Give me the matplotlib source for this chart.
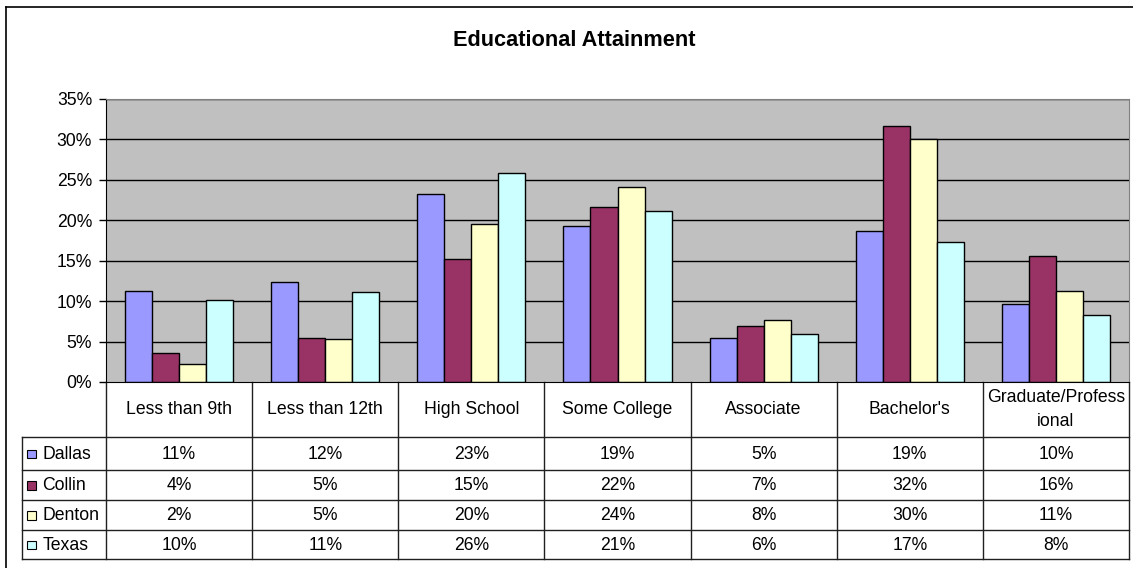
import matplotlib
matplotlib.use("Agg")
import matplotlib.pyplot as plt
from matplotlib.transforms import Affine2D, blended_transform_factory
from matplotlib.patches import Rectangle

# ---- data ----
categories = ["Less than 9th", "Less than 12th", "High School", "Some College",
              "Associate", "Bachelor's", "Graduate/Profess\nional"]
series_names = ["Dallas", "Collin", "Denton", "Texas"]
dallas = [11.2, 12.4, 23.3, 19.35, 5.43, 18.7, 9.6]
collin = [3.58, 5.43, 15.27, 21.6, 6.96, 31.66, 15.64]
denton = [2.18, 5.27, 19.6, 24.1, 7.66, 30.05, 11.2]
texas = [10.17, 11.07, 25.8, 21.2, 5.93, 17.3, 8.28]
series_values = [dallas, collin, denton, texas]
y_ticks = [0, 5, 10, 15, 20, 25, 30, 35]
title = "Educational Attainment"

# ---- style ----
colors = ["#9999FF", "#993366", "#FFFFCC", "#CCFFFF"]
FONT = "Liberation Sans"
FS = 12.7
W, H, DPI = 1133, 568, 100

plt.rcParams["font.family"] = [FONT, "DejaVu Sans"]

fig = plt.figure(figsize=(W / DPI, H / DPI), dpi=DPI)
fig.patch.set_facecolor("white")

# pixel transform (origin top-left)
px = Affine2D().scale(1 / W, -1 / H).translate(0, 1) + fig.transFigure

# plot area
L, R, T, B = 106, 1129, 99, 382
ax = fig.add_axes([L / W, 1 - B / H, (R - L) / W, (B - T) / H])
ax.set_facecolor("#C0C0C0")
ax.set_xlim(-0.5, len(categories) - 0.5)
ax.set_ylim(0, 35)
ax.set_yticks(y_ticks)
ax.set_yticklabels([f"{t}%" for t in y_ticks], fontsize=FS)
ax.tick_params(axis="y", length=5, width=1, pad=5, colors="black")
ax.set_xticks([])
for t in y_ticks[1:]:
    ax.axhline(t, color="black", lw=1, zorder=1)
ax.spines["top"].set_color("#808080")
ax.spines["right"].set_color("#808080")
ax.spines["left"].set_color("black")
ax.spines["bottom"].set_color("black")

bw = 0.185
for j, (vals, c) in enumerate(zip(series_values, colors)):
    xs = [i + (j - 1.5) * bw for i in range(len(categories))]
    ax.bar(xs, vals, width=bw, color=c, edgecolor="black", linewidth=1, zorder=2)

# table
tr = blended_transform_factory(ax.transData, px)
row_lines = [B, 437, 469.5, 500, 529.5, 559]
row_centers = [(row_lines[k] + row_lines[k + 1]) / 2 for k in range(1, 5)]
header_center = (B + 437) / 2
line_gap = 24
leg_left = 21.7
lc = "#202020"

# vertical lines at category boundaries
for k in range(len(categories) + 1):
    ax.plot([k - 0.5, k - 0.5], [B, row_lines[-1]], transform=tr, color=lc,
            lw=1, clip_on=False)
# horizontal lines
for y in row_lines[1:]:
    fig.add_artist(plt.Line2D([leg_left, R], [y, y], transform=px, color=lc, lw=1))
fig.add_artist(plt.Line2D([leg_left, leg_left], [row_lines[1], row_lines[-1]],
                          transform=px, color=lc, lw=1))

# header
for i, cat in enumerate(categories):
    parts = cat.split("\n")
    n = len(parts)
    for m, part in enumerate(parts):
        y = header_center + (m - (n - 1) / 2) * line_gap
        ax.text(i, y, part, transform=tr, ha="center", va="center",
                fontsize=FS, clip_on=False)

# rows
for k, (name, vals, c) in enumerate(zip(series_names, series_values, colors)):
    yc = row_centers[k]
    fig.add_artist(Rectangle((27, yc - 4.5 + 1), 8.5, 8.5, transform=px,
                             facecolor=c, edgecolor="black", lw=0.8))
    fig.text(42.5, yc + 1, name, transform=px, ha="left", va="center", fontsize=FS)
    for i, v in enumerate(vals):
        ax.text(i, yc + 1, f"{v:.0f}%", transform=tr, ha="center", va="center",
                fontsize=FS, clip_on=False)

# outer chart border (left and top visible)
fig.add_artist(plt.Line2D([6, 6], [7, H + 2], transform=px, color="black", lw=1.2))
fig.add_artist(plt.Line2D([6, W + 2], [7, 7], transform=px, color="black", lw=1.2))

# title
fig.text(574, 40, title, transform=px, ha="center", va="center",
         fontsize=15.7, fontweight="bold")

fig.savefig("out.png", dpi=DPI, facecolor="white")
